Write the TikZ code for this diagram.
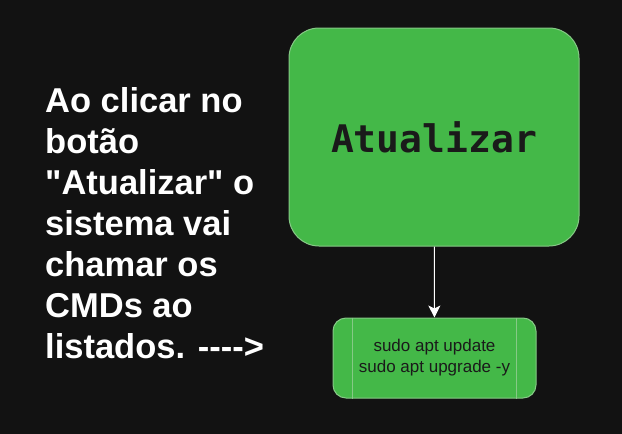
\documentclass[tikz,border=0pt]{standalone}
\usepackage{fontspec}
\setmainfont{Liberation Sans}
\newfontfamily\monofont{DejaVu Sans Mono}
\usetikzlibrary{arrows.meta}
\definecolor{bg}{HTML}{121212}
\definecolor{boxgreen}{HTML}{44B848}
\definecolor{boxline}{HTML}{86C986}
\definecolor{ink}{HTML}{1A1A1A}

\begin{document}
\begin{tikzpicture}[x=1pt,y=-1pt,
    greenbox/.style={draw=boxline,fill=boxgreen,line width=1pt,text=ink,inner sep=0pt}]
        \fill[bg] (0,0) rectangle (622,434);

        \node[anchor=north west,inner sep=0pt,text=white,align=left,
              font=\fontsize{34.5}{41}\selectfont\bfseries] (note) at (45,87.5)
              {Ao clicar no\\bot\~ao\\\textquotedbl Atualizar\textquotedbl{} o\\sistema vai\\chamar os\\CMDs ao\\listados. -{}-{}-{}->};

        \node[greenbox,rounded corners=30pt,minimum width=290pt,minimum height=218pt,
              font=\monofont\fontsize{38}{44}\selectfont\bfseries] (btn) at (434,137) {Atualizar};
        \node[greenbox,rounded corners=13pt,minimum width=203pt,minimum height=80pt,align=center,
              font=\fontsize{17}{21}\selectfont] (cmds) at (434.5,358) {sudo apt update\\sudo apt upgrade -y};
        \draw[boxline,line width=1pt] ([xshift=20pt]cmds.north west) -- ([xshift=20pt]cmds.south west);
        \draw[boxline,line width=1pt] ([xshift=-20pt]cmds.north east) -- ([xshift=-20pt]cmds.south east);

        \draw[white,line width=1pt,-{Stealth[length=12pt,width=12pt,inset=3pt]}] (btn) -- (cmds);
      \end{tikzpicture}
\end{document}
